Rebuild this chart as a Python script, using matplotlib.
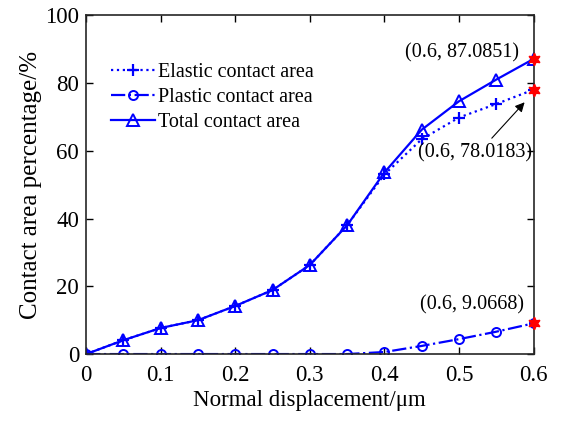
import numpy as np
import matplotlib
matplotlib.use('Agg')
import matplotlib.pyplot as plt

plt.rcParams['font.family'] = ['Liberation Serif', 'DejaVu Serif']

# displacement (um) and contact area percentages (%)
disp = [0, 0.05, 0.1, 0.15, 0.2, 0.25, 0.3, 0.35, 0.4, 0.45, 0.5, 0.55, 0.6]
elastic = [0, 4.1, 7.7, 10.0, 14.2, 18.9, 26.3, 38.0, 53.0, 63.4, 69.8, 73.8, 78.0183]
plastic = [0, 0, 0, 0, 0, 0, 0, 0, 0.6, 2.4, 4.4, 6.6, 9.0668]
total = [0, 4.1, 7.7, 10.0, 14.2, 18.9, 26.3, 38.0, 53.6, 66.2, 74.6, 81.0, 87.0851]

fig = plt.figure(figsize=(5.67, 4.22), dpi=100)
ax = fig.add_axes([0.152, 0.161, 0.789, 0.803])

ax.plot(disp, elastic, ':', color='blue', marker='+', ms=8, mew=1.6, lw=1.6,
        label='Elastic contact area')
ax.plot(disp, plastic, '-.', color='blue', marker='o', ms=6.5, mfc='none', mew=1.4, lw=1.6,
        label='Plastic contact area')
ax.plot(disp, total, '-', color='blue', marker='^', ms=8, mfc='none', mew=1.4, lw=1.6,
        label='Total contact area')

# highlighted end points (hexagram)
for yv in [total[-1], elastic[-1], plastic[-1]]:
    ax.plot(disp[-1], yv, marker=(6, 1, 0), color='red', ms=9, mec='red', zorder=5, clip_on=False)

ax.text(0.504, 89, '(0.6, %.4f)' % total[-1], ha='center', va='center', fontsize=14.5)
ax.text(0.517, 14.5, '(0.6, %.4f)' % plastic[-1], ha='center', va='center', fontsize=14.5)
ax.text(0.522, 59.3, '(0.6, %.4f)' % elastic[-1], ha='center', va='center', fontsize=14.5)
ax.annotate('', xy=(0.588, 74.3), xytext=(0.544, 63.7),
            arrowprops=dict(arrowstyle='-|>', color='black', lw=0.8, mutation_scale=14,
                            shrinkA=0, shrinkB=0))

ax.set_xlim(0, 0.6)
ax.set_ylim(0, 100)
ax.set_xticks(np.arange(0, 0.61, 0.1))
ax.set_xticklabels(['0', '0.1', '0.2', '0.3', '0.4', '0.5', '0.6'])
ax.set_yticks(np.arange(0, 101, 20))
ax.tick_params(direction='in', top=True, right=True, labelsize=16.5, length=5, width=1)
ax.tick_params(axis='x', pad=8)
ax.tick_params(axis='y', pad=5)
for s in ax.spines.values():
    s.set_linewidth(1.2)
    s.set_color('#262626')

ax.set_xlabel('Normal displacement/μm', fontsize=16.5, labelpad=3)
ax.set_ylabel('Contact area percentage/%', fontsize=18, labelpad=2)

ax.legend(loc='upper left', bbox_to_anchor=(0.055, 0.86), frameon=False, fontsize=14.5,
          handlelength=2.2, handletextpad=0.15, labelspacing=0.3, borderaxespad=0,
          borderpad=0)

fig.savefig('out.png', dpi=100)
